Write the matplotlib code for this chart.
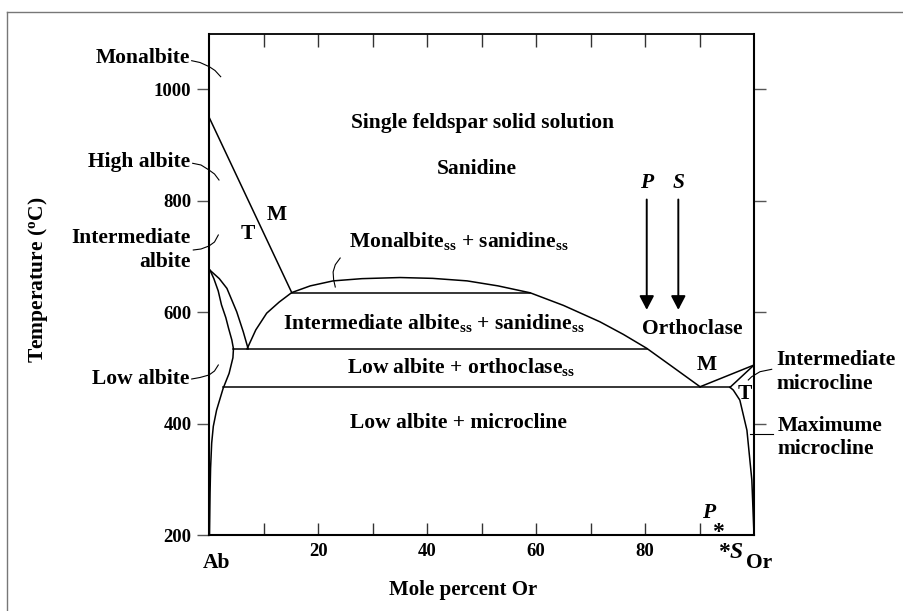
import matplotlib
matplotlib.use("Agg")
import matplotlib.pyplot as plt
from matplotlib.lines import Line2D

plt.rcParams["font.family"] = ["Liberation Serif", "DejaVu Serif"]
plt.rcParams["font.weight"] = "bold"
plt.rcParams["mathtext.fontset"] = "custom"
plt.rcParams["mathtext.rm"] = "Liberation Serif:bold"
plt.rcParams["mathtext.it"] = "Liberation Serif:bold:italic"
plt.rcParams["mathtext.bf"] = "Liberation Serif:bold"

# phase boundaries (mole percent Or, temperature in C)
monalbite_x = [0, 15.1]
monalbite_t = [948, 635]

upper_tie_x = [15.1, 58.9]
upper_tie_t = [635, 635]

solvus_x = [6.9, 8.5, 10.5, 12.8, 15.1, 18.5, 22.7, 28, 35, 41, 47.3, 53, 58.9, 65, 71.7, 76, 80.3, 85, 90.1]
solvus_t = [534, 568, 598, 618, 635, 647, 656, 660, 662, 660.5, 656, 647, 634.6, 612, 582.6, 560, 535, 502, 466]

low_albite_x = [0.1, 0.8, 1.6, 2.2, 3.0, 3.5, 4.1, 4.4, 4.3, 3.6, 2.5, 1.3, 0.7, 0.4, 0.2, 0.1, 0.0]
low_albite_t = [675, 660, 638, 613, 590, 571, 550, 534, 518, 490, 463, 424, 395, 365, 320, 275, 200]

int_albite_x = [0.1, 1.8, 3.2, 5.0, 6.2, 7.1]
int_albite_t = [675, 660, 642.5, 600.5, 564.7, 534]

ortho_tie_x = [4.4, 80.3]
ortho_tie_t = [534, 534]

micro_tie_x = [2.4, 95.6]
micro_tie_t = [465, 465]

m_line_x = [90.1, 100]
m_line_t = [466, 505]
t_line_x = [95.6, 100]
t_line_t = [465, 505]

microcline_x = [95.6, 96.2, 97.4, 98.7, 99.6, 100]
microcline_t = [465, 460, 442, 388, 299, 200]

# small leader arc inside the dome
lead_dome_x = [24.0, 23.1, 22.7, 22.8, 23.1]
lead_dome_t = [697, 685, 672, 658, 645]

# arrows for P and S
arrow_x = [80.3, 86.1]
arrow_names = ["P", "S"]
arrow_top = 802
arrow_tip = 604

y_ticks = [200, 400, 600, 800, 1000]
x_minor = [10, 20, 30, 40, 50, 60, 70, 80, 90]
x_labels = [20, 40, 60, 80]

W, H = 904, 611


def fx(px):
    return px / W


def fy(py):
    return 1 - py / H


fig = plt.figure(figsize=(W / 100, H / 100), dpi=100)
ax = fig.add_axes([fx(209.5), fy(535), (754 - 209.5) / W, (535 - 34) / H])
ax.set_xlim(0, 100)
ax.set_ylim(200, 1099)

lw = 1.1
for xs, ts in [(monalbite_x, monalbite_t), (upper_tie_x, upper_tie_t),
               (solvus_x, solvus_t), (low_albite_x, low_albite_t),
               (int_albite_x, int_albite_t), (ortho_tie_x, ortho_tie_t),
               (micro_tie_x, micro_tie_t), (m_line_x, m_line_t),
               (t_line_x, t_line_t), (microcline_x, microcline_t)]:
    ax.plot(xs, ts, color="black", lw=lw, solid_joinstyle="round")

ax.plot(lead_dome_x, lead_dome_t, color="black", lw=0.8)

for x, name in zip(arrow_x, arrow_names):
    ax.annotate("", xy=(x, arrow_tip), xytext=(x, arrow_top),
                arrowprops=dict(arrowstyle="-|>,head_length=0.42,head_width=0.22",
                                mutation_scale=20, lw=1.4, color="black",
                                shrinkA=0, shrinkB=0))
    ax.text(x, 832, name, ha="center", va="center", fontsize=15.5,
            style="italic", fontweight="bold")

# axes frame and ticks
for side in ["left", "bottom", "right"]:
    ax.spines[side].set_linewidth(1.5)
ax.spines["top"].set_linewidth(1.3)

ax.set_yticks(y_ticks)
ax.set_yticklabels([str(v) for v in y_ticks])
ax.tick_params(axis="y", which="major", direction="out", length=8.5, width=1,
               color="#555555", labelsize=13.5, pad=4.5, right=True)
ax.set_xticks(x_minor)
ax.set_xticklabels([str(v) if v in x_labels else "" for v in x_minor])
ax.tick_params(axis="x", which="major", direction="in", length=9, width=1,
               color="#333333", labelsize=13.5, pad=6, top=True)
for tick in ax.yaxis.get_major_ticks():
    if tick.get_loc() == 200:
        tick.tick2line.set_visible(False)

ax.set_ylabel("Temperature ($^{\\mathrm{o}}$C)", fontsize=15.5, fontweight="bold")
ax.yaxis.set_label_coords((50 - 209.5) / (754 - 209.5), 0.5 + (284.5 - 280) / (535 - 34))
ax.set_xlabel("Mole percent Or", fontsize=15, fontweight="bold")
ax.xaxis.set_label_coords((463 - 209.5) / (754 - 209.5), -(580 - 535) / (535 - 34))

# field labels inside the diagram
fs = 15.5
ax.text(50.1, 930, "Single feldspar solid solution", ha="center", va="baseline", fontsize=fs)
ax.text(49.1, 847, "Sanidine", ha="center", va="baseline", fontsize=fs)
ax.text(45.8, 716, "Monalbite$_{\\mathrm{ss}}$ + sanidine$_{\\mathrm{ss}}$",
        ha="center", va="baseline", fontsize=fs)
ax.text(41.2, 570, "Intermediate albite$_{\\mathrm{ss}}$ + sanidine$_{\\mathrm{ss}}$",
        ha="center", va="baseline", fontsize=fs)
ax.text(46.2, 490, "Low albite + orthoclase$_{\\mathrm{ss}}$", ha="center",
        va="baseline", fontsize=fs)
ax.text(45.7, 392, "Low albite + microcline", ha="center", va="baseline", fontsize=fs)
ax.text(88.7, 560, "Orthoclase", ha="center", va="baseline", fontsize=fs)
ax.text(12.3, 774, "M", ha="center", va="center", fontsize=fs)
ax.text(7.1, 741, "T", ha="center", va="center", fontsize=fs)
ax.text(91.3, 505, "M", ha="center", va="center", fontsize=fs)
ax.text(98.3, 453, "T", ha="center", va="center", fontsize=fs)

# labels outside the axes
fig.text(fx(190), fy(58.3), "Monalbite", ha="right", va="center", fontsize=fs)
fig.text(fx(190), fy(161.7), "High albite", ha="right", va="center", fontsize=fs)
fig.text(fx(190.7), fy(238.3), "Intermediate", ha="right", va="center", fontsize=fs)
fig.text(fx(190.7), fy(261.7), "albite", ha="right", va="center", fontsize=fs)
fig.text(fx(189.3), fy(379.3), "Low albite", ha="right", va="center", fontsize=fs)
fig.text(fx(776.7), fy(360), "Intermediate", ha="left", va="center", fontsize=fs)
fig.text(fx(776.7), fy(384), "microcline", ha="left", va="center", fontsize=fs)
fig.text(fx(777.7), fy(425.7), "Maximume", ha="left", va="center", fontsize=fs)
fig.text(fx(777.7), fy(449.3), "microcline", ha="left", va="center", fontsize=fs)
fig.text(fx(216.7), fy(563), "Ab", ha="center", va="center", fontsize=fs)
fig.text(fx(759.3), fy(563.3), "Or", ha="center", va="center", fontsize=fs)
fig.text(fx(709), fy(513), "P", ha="center", va="center", fontsize=fs, style="italic")
fig.text(fx(718), fy(532), "*", ha="center", va="center", fontsize=17)
fig.text(fx(718), fy(552), "*$\\mathit{S}$", ha="left", va="center", fontsize=17)

# leader lines to the outside labels (figure pixels)
leaders = [
    ([191.7, 200, 209.3, 215, 220.7], [60.7, 62.5, 66.7, 70.5, 76.7]),
    ([192.7, 201, 209, 214.5, 219], [163.3, 165, 170, 174, 180]),
    ([193.3, 201, 209, 214.5, 218.3], [250, 249, 246, 242, 235]),
    ([191.7, 200, 209, 214.5, 218.3], [379, 377.5, 375, 371, 365]),
    ([771.7, 760, 751.7, 748.3], [369.3, 371.7, 376.7, 380]),
    ([750, 773.3], [434.3, 434.3]),
]
for lx, ly in leaders:
    fig.add_artist(Line2D([fx(v) for v in lx], [fy(v) for v in ly],
                          color="black", lw=0.8))

# outer grey frame
fig.add_artist(Line2D([fx(7), fx(7)], [fy(12), 0], color="#777777", lw=1))
fig.add_artist(Line2D([fx(7), 1], [fy(12), fy(12)], color="#777777", lw=1))

fig.savefig("out.png", dpi=100)
